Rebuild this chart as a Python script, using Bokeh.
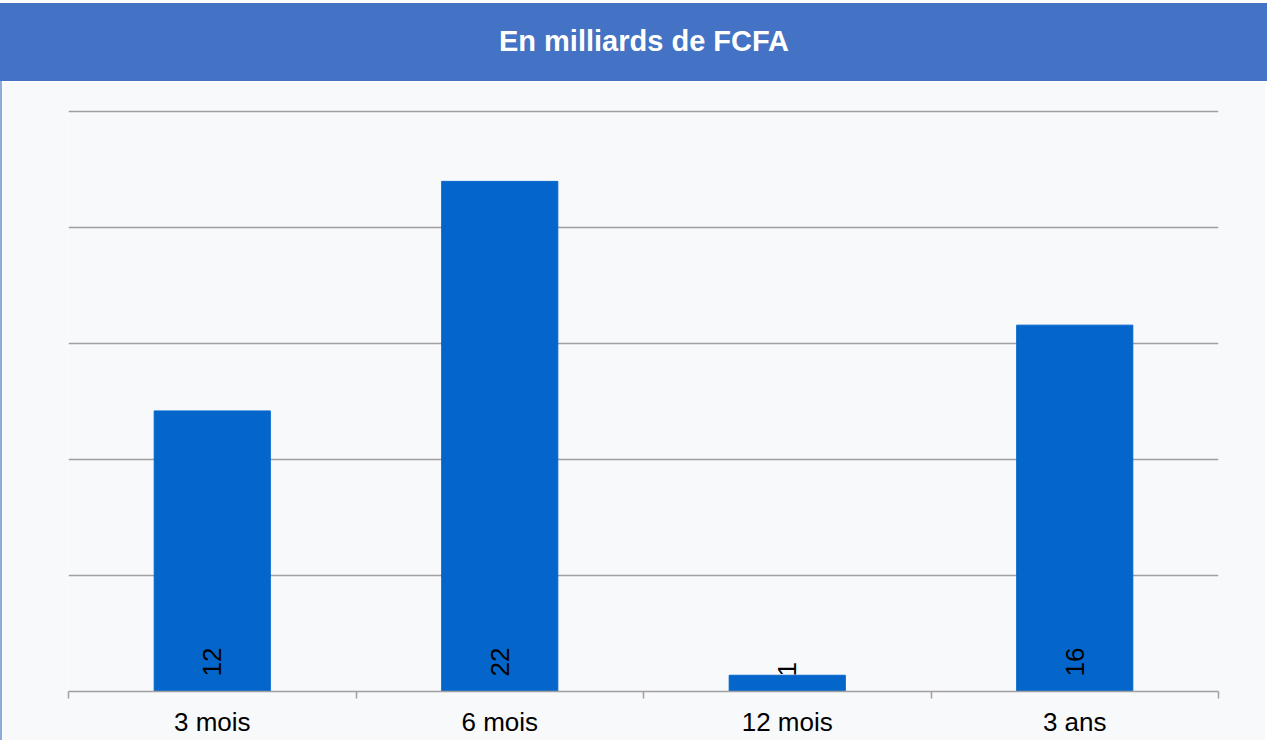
import math
from bokeh.plotting import figure
from bokeh.models import ColumnDataSource, FixedTicker, Div, Range1d
from bokeh.layouts import column
from bokeh.core.properties import value
from bokeh.embed import file_html
from bokeh.resources import INLINE

title_text = "En milliards de FCFA"
categories = ["3 mois", "6 mois", "12 mois", "3 ans"]
values = [12.1, 22.0, 0.7, 15.8]
value_labels = ["12", "22", "1", "16"]
y_ticks = [0, 5, 10, 15, 20, 25]

FONT = "Liberation Sans"
BG = "#f8f9fb"

n = len(categories)
xs = [i + 0.5 for i in range(n)]
src = ColumnDataSource(dict(x=xs, top=values, lab=value_labels))

header = Div(
    text=title_text,
    width=1267, height=78,
    margin=(3, 0, 0, 0),
    styles={
        "background-color": "#4472C4",
        "color": "white",
        "font-family": FONT,
        "font-weight": "bold",
        "font-size": "29px",
        "display": "flex",
        "align-items": "center",
        "justify-content": "center",
        "box-sizing": "border-box",
        "padding-left": "21px",
    },
)

p = figure(
    width=1265, height=659,
    x_range=Range1d(0, n), y_range=Range1d(y_ticks[0], y_ticks[-1] + 0.1),
    output_backend="svg", toolbar_location=None,
    min_border_left=66, min_border_right=49, min_border_top=28, min_border_bottom=49,
    background_fill_color=BG, border_fill_color=BG,
    outline_line_color=None,
    styles={"border-left": "2px solid #8eaadc"},
)

p.vbar(x="x", top="top", width=0.404, source=src, color="#0466CB")

p.text(x="x", y=0, text="lab", source=src, angle=math.pi / 2,
       y_offset=-15, text_align="left", text_baseline="middle",
       text_font=value(FONT), text_font_size="26px", text_color="black")

p.yaxis.visible = False
p.ygrid.ticker = FixedTicker(ticks=y_ticks)
p.ygrid.grid_line_color = "#a0a0a0"
p.ygrid.grid_line_width = 1.5
p.xgrid.visible = False

ax = p.xaxis[0]
ax.ticker = FixedTicker(ticks=xs, minor_ticks=list(range(n + 1)))
ax.major_label_overrides = {x: c for x, c in zip(xs, categories)}
ax.major_tick_out = 0
ax.major_tick_in = 0
ax.minor_tick_out = 7
ax.minor_tick_in = 0
ax.minor_tick_line_color = "#a0a0a0"
ax.minor_tick_line_width = 1.5
ax.axis_line_color = "#a0a0a0"
ax.axis_line_width = 1.5
ax.major_label_standoff = 8
ax.major_label_text_font = FONT
ax.major_label_text_font_size = "26px"
ax.major_label_text_color = "black"

layout = column(header, p, spacing=0)
open("out.html", "w").write(file_html(layout, INLINE))
